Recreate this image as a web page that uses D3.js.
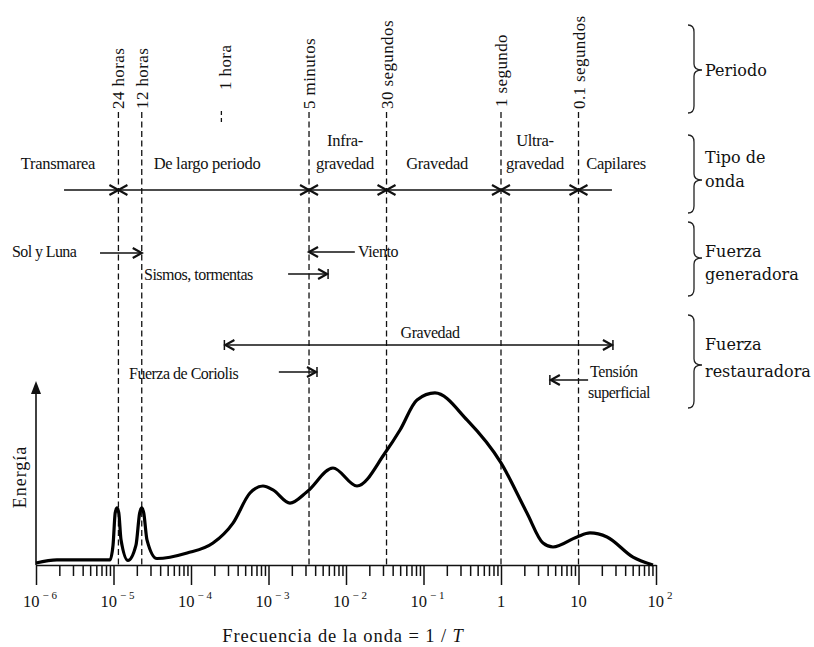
<!DOCTYPE html>
<html>
<head>
<meta charset="utf-8">
<script src="https://cdn.jsdelivr.net/npm/d3@7"></script>
<style>
  body { margin: 0; background: #fff; }
  text { fill: #111; }
</style>
</head>
<body>
<div id="chart"></div>
<script>
// ======= data: energy spectrum (log10 of frequency, relative energy)
var curveLogF = [-6.0, -5.73, -5.045, -5.006, -4.978, -4.955, -4.932, -4.903, -4.813, -4.71, -4.662, -4.636,
  -4.61, -4.568, -4.44, -4.05, -3.716, -3.458, -3.239, -3.071, -2.942, -2.723, -2.503, -2.168,
  -1.858, -1.497, -1.303, -1.084, -0.852, -0.439, 0.0, 0.335, 0.542, 0.671, 0.981, 1.148,
  1.368, 1.703, 1.961];
var curveEnergy = [1.1, 2.8, 2.8, 11, 29, 31.7, 29, 14, 2.5, 11, 29, 31.7,
  29, 14, 3.6, 6.7, 12.2, 23.3, 40, 43.9, 41.7, 34.4, 40.7, 53.9,
  43.9, 62.2, 75, 91.7, 95.6, 80.6, 56.7, 28.9, 12.2, 10, 15.6, 17.8,
  15.6, 4.4, 0];

// ======= periods (seconds) marked with dashed lines
var periodLabels = ["24 horas", "12 horas", "1 hora", "5 minutos", "30 segundos", "1 segundo", "0.1 segundos"];
var periodSeconds = [86400, 43200, 3600, 300, 30, 1, 0.1];

// ======= wave types, bounded by periods
var waveTypes = [["Transmarea"], ["De largo periodo"], ["Infra-", "gravedad"], ["Gravedad"], ["Ultra-", "gravedad"], ["Capilares"]];
var waveBounds = [86400, 300, 30, 1, 0.1];
var waveRange = [2.3e-6, 27];

// ======= forces: arrows in frequency (from, to)
var genForces = ["Sol y Luna", "Viento", "Sismos, tormentas"];
var genFrom = [6.7e-6, 0.013, 1.79e-3];
var genTo = [1 / 43200, 1 / 300, 5.7e-3];
var restForces = ["Gravedad", "Fuerza de Coriolis", "Tensión superficial"];
var restFrom = [1 / 3600, 1.36e-3, 13.3];
var restTo = [27, 4.1e-3, 4.4];

// ======= axis ticks
var majorTicks = [1e-6, 1e-5, 1e-4, 1e-3, 1e-2, 1e-1, 1, 10, 100];
var majorLabels = [["10", "\u2212 6"], ["10", "\u2212 5"], ["10", "\u2212 4"], ["10", "\u2212 3"], ["10", "\u2212 2"], ["10", "\u2212 1"], ["1", ""], ["10", ""], ["10", "2"]];

// ======= brace groups on the right
var groupLabels = [["Periodo"], ["Tipo de", "onda"], ["Fuerza", "generadora"], ["Fuerza", "restauradora"]];

var serif = "'Liberation Serif', 'Times New Roman', serif";
var W = 814, H = 647;
var svg = d3.select("#chart").append("svg")
  .attr("width", W)
  .attr("height", H)
  .style("font-family", serif);

var x = d3.scaleLog().domain([1e-6, 1e2]).range([36, 656]);
var y = d3.scaleLinear().domain([0, 100]).range([565, 385]);
var baseY = 565;

// ======= arrow helpers
function chevron(g, tipX, tipY, dir) {
  // dir = +1 points right, -1 points left
  g.append("path")
    .attr("d", "M" + (tipX - dir * 9) + "," + (tipY - 5) + " L" + tipX + "," + tipY + " L" + (tipX - dir * 9) + "," + (tipY + 5))
    .attr("fill", "none")
    .attr("stroke", "#111")
    .attr("stroke-width", 2.2);
}
function bar(g, bx, by) {
  g.append("line")
    .attr("x1", bx).attr("x2", bx)
    .attr("y1", by - 5).attr("y2", by + 5)
    .attr("stroke", "#111")
    .attr("stroke-width", 1.5);
}
function hline(g, x1, x2, yy) {
  g.append("line")
    .attr("x1", x1).attr("x2", x2)
    .attr("y1", yy).attr("y2", yy)
    .attr("stroke", "#111")
    .attr("stroke-width", 1.3);
}

// ======= dashed period lines + rotated labels
var periodG = svg.append("g");
periodSeconds.forEach(function(T, j) {
  var px = x(1 / T);
  if (T === 3600) {
    periodG.append("line")
      .attr("x1", px - 4).attr("x2", px - 4)
      .attr("y1", 111).attr("y2", 122)
      .attr("stroke", "#111").attr("stroke-width", 1.3)
      .attr("stroke-dasharray", "4,3");
  } else {
    periodG.append("line")
      .attr("x1", px).attr("x2", px)
      .attr("y1", 112).attr("y2", baseY)
      .attr("stroke", "#111").attr("stroke-width", 1.3)
      .attr("stroke-dasharray", "6,3.5");
  }
  var startY = (T === 3600) ? 90 : (T === 1 ? 107 : 109);
  periodG.append("text")
    .attr("transform", "translate(" + (px + 6) + "," + startY + ") rotate(-90)")
    .attr("text-anchor", "start")
    .attr("font-size", "17px")
    .attr("letter-spacing", "0.4px")
    .text(periodLabels[j]);
});

// ======= wave type row
var waveG = svg.append("g");
hline(waveG, x(waveRange[0]), x(waveRange[1]), 190);
waveBounds.forEach(function(T) {
  chevron(waveG, x(1 / T), 190, 1);
  chevron(waveG, x(1 / T), 190, -1);
});
var waveLabelAt = [58, 207, 345, 437, 535, 616];
waveTypes.forEach(function(lines, j) {
  lines.forEach(function(s, k) {
    waveG.append("text")
      .attr("x", waveLabelAt[j])
      .attr("y", lines.length === 2 ? (k === 0 ? 146 : 169) : 169)
      .attr("text-anchor", "middle")
      .attr("font-size", "16.5px")
      .attr("letter-spacing", "-0.3px")
      .text(s);
  });
});

// ======= generating forces
var genG = svg.append("g");
var genY = [253, 252, 274];
genForces.forEach(function(name, j) {
  var a = x(genFrom[j]), b = x(genTo[j]);
  hline(genG, a, b, genY[j]);
  chevron(genG, b, genY[j], b > a ? 1 : -1);
  if (j === 2) bar(genG, b + 1, genY[j]);
});
genG.append("text").attr("x", 12).attr("y", 257).attr("font-size", "16px").attr("letter-spacing", "-0.6px").text(genForces[0]);
genG.append("text").attr("x", 358).attr("y", 257).attr("font-size", "16px").attr("letter-spacing", "-0.4px").text(genForces[1]);
genG.append("text").attr("x", 144).attr("y", 280).attr("font-size", "16px").attr("letter-spacing", "-0.5px").text(genForces[2]);

// ======= restoring forces
var restG = svg.append("g");
var restY = [345, 372, 380];
restForces.forEach(function(name, j) {
  var a = x(restFrom[j]), b = x(restTo[j]);
  hline(restG, a, b, restY[j]);
  chevron(restG, b, restY[j], b > a ? 1 : -1);
  bar(restG, b + (b > a ? 1 : -1), restY[j]);
  if (j === 0) {
    chevron(restG, a, restY[j], -1);
    bar(restG, a - 1, restY[j]);
  }
});
restG.append("text").attr("x", 430).attr("y", 338).attr("text-anchor", "middle").attr("font-size", "16px").attr("letter-spacing", "-0.4px").text(restForces[0]);
restG.append("text").attr("x", 129).attr("y", 379).attr("font-size", "16px").attr("letter-spacing", "-0.5px").text(restForces[1]);
restG.append("text").attr("x", 590).attr("y", 377).attr("font-size", "16px").attr("letter-spacing", "-0.4px").text("Tensión");
restG.append("text").attr("x", 588).attr("y", 398).attr("font-size", "16px").attr("letter-spacing", "-0.5px").text("superficial");

// ======= braces on the right
var braceTop = [25, 135, 222, 315];
var braceBot = [113, 213, 296, 408];
var braceTip = [70, 180, 258, 365];
var textBase = [[76], [163, 187], [257, 280], [350, 377]];
var braceG = svg.append("g");
groupLabels.forEach(function(lines, j) {
  var t = braceTop[j], b = braceBot[j], m = braceTip[j], bx = 694;
  braceG.append("path")
    .attr("d", "M" + (bx - 6) + "," + t + " Q" + bx + "," + t + " " + bx + "," + (t + 7)
      + " L" + bx + "," + (m - 6) + " Q" + bx + "," + m + " " + (bx + 8) + "," + m
      + " Q" + bx + "," + m + " " + bx + "," + (m + 6)
      + " L" + bx + "," + (b - 7) + " Q" + bx + "," + b + " " + (bx - 6) + "," + b)
    .attr("fill", "none")
    .attr("stroke", "#222")
    .attr("stroke-width", 1.3);
  lines.forEach(function(s, k) {
    braceG.append("text")
      .attr("x", 705)
      .attr("y", textBase[j][k])
      .style("font-family", "'DejaVu Serif', serif")
      .attr("font-size", "16px")
      .text(s);
  });
});

// ======= x axis with log ticks
var minorTicks = [];
for (var e = -6; e < 2; e++) {
  for (var m = 2; m <= 9; m++) minorTicks.push(m * Math.pow(10, e));
}
var axisG = svg.append("g").attr("transform", "translate(0," + baseY + ")");
axisG.call(d3.axisBottom(x)
  .tickValues(majorTicks.concat(minorTicks))
  .tickSize(11)
  .tickSizeOuter(0)
  .tickFormat(""));
axisG.select(".domain").attr("stroke", "#111").attr("stroke-width", 1.6);
axisG.selectAll(".tick line")
  .attr("stroke", "#111")
  .attr("stroke-width", 1.5)
  .attr("y2", function(d) { return majorTicks.indexOf(d) >= 0 ? 20 : 11; });

majorTicks.forEach(function(v, j) {
  var lab = majorLabels[j];
  var t = svg.append("text")
    .attr("x", x(v) + (lab[1] ? 4 : 0))
    .attr("y", 607)
    .attr("text-anchor", "middle")
    .attr("font-size", "16.5px");
  t.append("tspan").text(lab[0]);
  if (lab[1]) {
    t.append("tspan")
      .attr("dx", 3)
      .attr("dy", -8)
      .attr("font-size", "11px")
      .text(lab[1]);
  }
});

// ======= y axis arrow
svg.append("line")
  .attr("x1", 36).attr("x2", 36)
  .attr("y1", baseY).attr("y2", 392)
  .attr("stroke", "#111").attr("stroke-width", 1.6);
svg.append("path")
  .attr("d", "M36,381 L41,394 L31,394 Z")
  .attr("fill", "#111");

// ======= energy curve
var curveData = curveLogF.map(function(lf, j) { return [Math.pow(10, lf), curveEnergy[j]]; });
svg.append("path")
  .datum(curveData)
  .attr("d", d3.line()
    .x(function(d) { return x(d[0]); })
    .y(function(d) { return y(d[1]); })
    .curve(d3.curveMonotoneX))
  .attr("fill", "none")
  .attr("stroke", "#000")
  .attr("stroke-width", 3.2)
  .attr("stroke-linejoin", "round");

// ======= axis titles
var xt = svg.append("text")
  .attr("x", 343)
  .attr("y", 642)
  .attr("text-anchor", "middle")
  .attr("font-size", "18.5px")
  .attr("letter-spacing", "0.9px");
xt.append("tspan").text("Frecuencia de la onda = 1 / ");
xt.append("tspan").attr("font-style", "italic").text("T");

svg.append("text")
  .attr("transform", "translate(26,477) rotate(-90)")
  .attr("text-anchor", "middle")
  .attr("font-size", "18px")
  .attr("letter-spacing", "1px")
  .text("Energía");
</script>
</body>
</html>
